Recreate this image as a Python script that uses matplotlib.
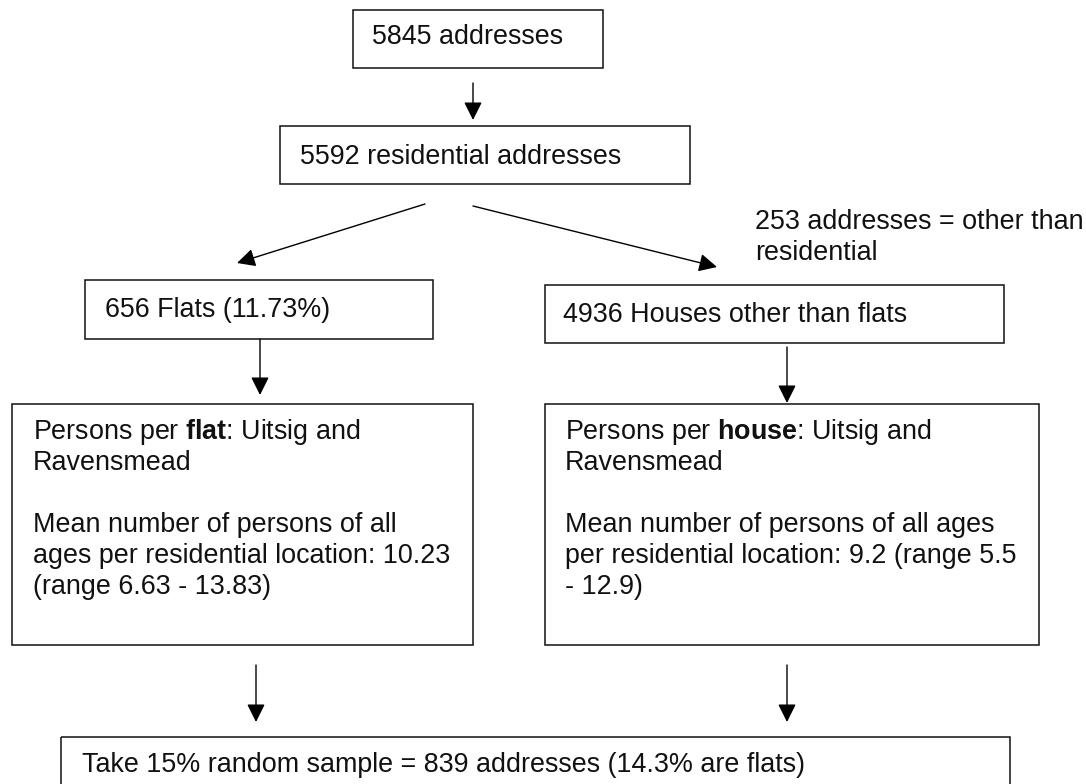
import matplotlib
matplotlib.use("Agg")
import matplotlib.pyplot as plt
from matplotlib.patches import Rectangle

plt.rcParams['font.family'] = ['Liberation Sans', 'DejaVu Sans']
plt.rcParams['mathtext.fontset'] = 'custom'
plt.rcParams['mathtext.rm'] = 'Liberation Sans'
plt.rcParams['mathtext.bf'] = 'Liberation Sans:bold'
plt.rcParams['mathtext.it'] = 'Liberation Sans:italic'

# ---- content (texts) ----
top_text = ["5845 addresses"]
residential_text = ["5592 residential addresses"]
other_text = ["253 addresses = other than", "residential"]
flats_text = ["656 Flats (11.73%)"]
houses_text = ["4936 Houses other than flats"]
flat_detail = [r"Persons per $\mathbf{flat}$: Uitsig and", "Ravensmead", "",
               "Mean number of persons of all",
               "ages per residential location: 10.23",
               "(range 6.63 - 13.83)"]
house_detail = [r"Persons per $\mathbf{house}$: Uitsig and", "Ravensmead", "",
                "Mean number of persons of all ages",
                "per residential location: 9.2 (range 5.5",
                "- 12.9)"]
sample_text = ["Take 15% random sample = 839 addresses (14.3% are flats)"]

W, H = 1086, 784
fig = plt.figure(figsize=(W / 100, H / 100), dpi=100)
ax = fig.add_axes([0, 0, 1, 1])
ax.set_xlim(0, W)
ax.set_ylim(H, 0)
ax.axis('off')

FS = 19.4
LS = 31  # line spacing in px


def box(x0, y0, x1, y1):
    ax.add_patch(Rectangle((x0, y0), x1 - x0, y1 - y0, fill=False,
                           edgecolor='#111111', linewidth=1.1))


def lines(x, y, texts):
    for i, t in enumerate(texts):
        if t:
            ax.text(x, y + i * LS, t, fontsize=FS, ha='left', va='center',
                    color='#111111')


def arrow(x0, y0, x1, y1):
    ax.annotate('', xy=(x1, y1), xytext=(x0, y0),
                arrowprops=dict(arrowstyle='-|>,head_length=0.5,head_width=0.25',
                                color='black', lw=1.0,
                                mutation_scale=22, shrinkA=0, shrinkB=0))


# boxes
box(353, 10, 603, 68)
lines(372, 37, top_text)
arrow(473, 83, 473, 120)

box(280, 126, 690, 184)
lines(300, 157, residential_text)

arrow(425, 204, 237, 263)
arrow(473, 206, 717, 267)
lines(755, 222, other_text)

box(85, 280, 433, 339)
lines(105, 310, flats_text)

box(545, 285, 1004, 343)
lines(563, 315, houses_text)

arrow(260, 339, 260, 395)
arrow(787, 347, 787, 403)

box(12, 404, 473, 645)
lines(33, 432, flat_detail)

box(545, 404, 1039, 645)
lines(565, 432, house_detail)

arrow(256, 665, 256, 722)
arrow(787, 665, 787, 722)

box(61, 737, 1010, 800)
lines(82, 765, sample_text)

fig.savefig('out.png', dpi=100)
